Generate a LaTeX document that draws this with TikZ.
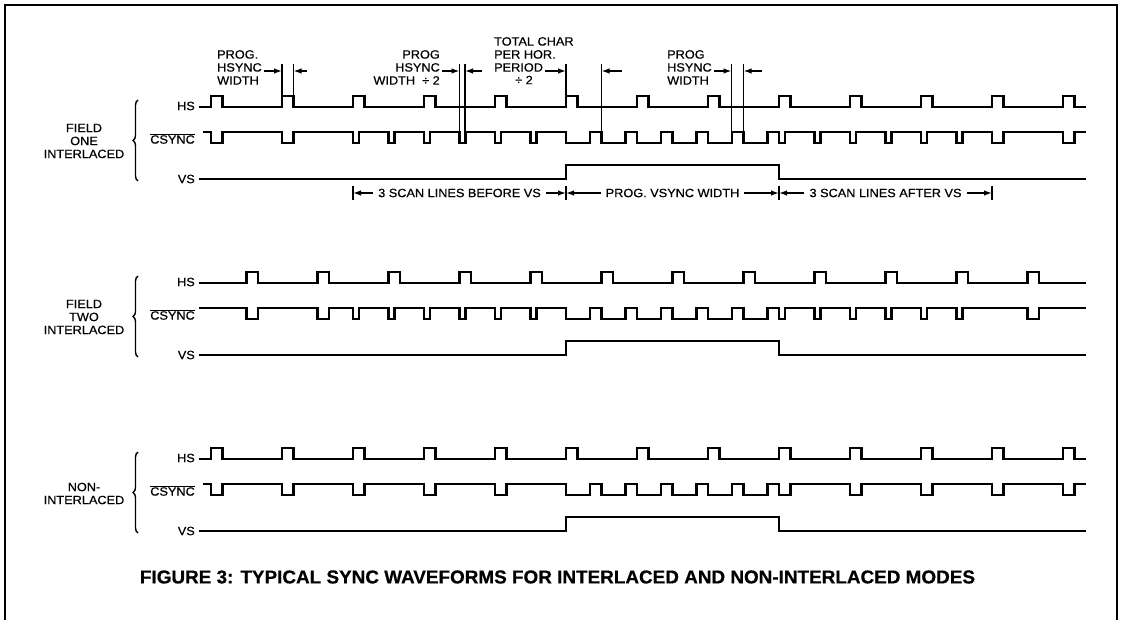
\documentclass[tikz,border=0pt]{standalone}
\usepackage{fontspec}
\setmainfont{Liberation Sans}[FakeStretch=1.06,FakeBold=0.6]
\usepackage{graphicx}
\usetikzlibrary{arrows.meta,decorations.pathreplacing}
\begin{document}
\begin{tikzpicture}[x=1pt,y=-1pt,
  lbl/.style={font=\fontsize{12}{13}\selectfont, inner sep=0pt},
  sig/.style={lbl, anchor=east},
  grp/.style={lbl, align=center},
  dimtxt/.style={lbl, inner xsep=5pt},
  wave/.style={line width=2.1pt},
  guide/.style={line width=1.6pt},
  dimarr/.style={line width=1.4pt, -{Latex[length=8pt,width=5.5pt]}},
  dimbar/.style={line width=1.6pt},
  frameline/.style={line width=2.6pt},
  grpbrace/.style={decorate, decoration={brace, amplitude=5pt}, line width=1.4pt}]
\useasboundingbox (0,0) rectangle (1121,620);
% frame
\coordinate (fbl) at (5,622); \coordinate (ftl) at (5,5);
\coordinate (ftr) at (1117,5); \coordinate (fbr) at (1117,622);
\draw[frameline] (fbl) -- (ftl) -- (ftr) -- (fbr);

% ---------------- group labels and braces ----------------
\node[grp] (g1) at (84,141) {FIELD\\ONE\\INTERLACED};
\node[grp] (g2) at (84,317) {FIELD\\TWO\\INTERLACED};
\node[grp] (g3) at (84,493.5) {NON-\\INTERLACED};
\draw[grpbrace] (138,181) -- (138,100);
\draw[grpbrace] (138,357) -- (138,276);
\draw[grpbrace] (138,533) -- (138,452);

% ---------------- signal labels ----------------
\node[sig] (hs1) at (195,106) {HS};
\node[sig] (cs1) at (195,138.5) {$\overline{\mbox{CSYNC}}$};
\node[sig] (vs1) at (195,179) {VS};
\node[sig] (hs2) at (195,282) {HS};
\node[sig] (cs2) at (195,314.5) {$\overline{\mbox{CSYNC}}$};
\node[sig] (vs2) at (195,355) {VS};
\node[sig] (hs3) at (195,458) {HS};
\node[sig] (cs3) at (195,490.5) {$\overline{\mbox{CSYNC}}$};
\node[sig] (vs3) at (195,531) {VS};

% ---------------- FIELD ONE ----------------
\draw[wave] (199,107) \foreach \k in {0,...,12} { -- ({211+71*\k},107) -- ({211+71*\k},96) -- ({222.5+71*\k},96) -- ({222.5+71*\k},107) } -- (1086,107);
\draw[wave] (203,132)
  \foreach \t in {211,282} { -- (\t,132) -- (\t,143) -- ({\t+11.5},143) -- ({\t+11.5},132) }
  \foreach \k in {0,...,5} { -- ({353+35.5*\k},132) -- ({353+35.5*\k},143) -- ({359+35.5*\k},143) -- ({359+35.5*\k},132) }
  -- (566,132) -- (566,143)
  \foreach \k in {1,...,6} { -- ({554.5+35.5*\k},143) -- ({554.5+35.5*\k},132) -- ({566+35.5*\k},132) -- ({566+35.5*\k},143) }
  -- (785,143) -- (785,132)
  \foreach \k in {1,...,5} { -- ({779+35.5*\k},132) -- ({779+35.5*\k},143) -- ({785+35.5*\k},143) -- ({785+35.5*\k},132) }
  \foreach \t in {992,1063} { -- (\t,132) -- (\t,143) -- ({\t+11.5},143) -- ({\t+11.5},132) }
  -- (1086,132);
\draw[wave] (199,179) -- (566,179) -- (566,165) -- (779,165) -- (779,179) -- (1086,179);

% ---------------- FIELD TWO ----------------
\draw[wave] (199,283) \foreach \k in {0,...,11} { -- ({246.5+71*\k},283) -- ({246.5+71*\k},272) -- ({258+71*\k},272) -- ({258+71*\k},283) } -- (1086,283);
\draw[wave] (199,308)
  \foreach \t in {246.5,317.5} { -- (\t,308) -- (\t,319) -- ({\t+11.5},319) -- ({\t+11.5},308) }
  \foreach \k in {0,...,5} { -- ({353+35.5*\k},308) -- ({353+35.5*\k},319) -- ({359+35.5*\k},319) -- ({359+35.5*\k},308) }
  -- (566,308) -- (566,319)
  \foreach \k in {1,...,6} { -- ({554.5+35.5*\k},319) -- ({554.5+35.5*\k},308) -- ({566+35.5*\k},308) -- ({566+35.5*\k},319) }
  -- (785,319) -- (785,308)
  \foreach \k in {1,...,5} { -- ({779+35.5*\k},308) -- ({779+35.5*\k},319) -- ({785+35.5*\k},319) -- ({785+35.5*\k},308) }
  -- (1027.5,308) -- (1027.5,319) -- (1039,319) -- (1039,308)
  -- (1086,308);
\draw[wave] (199,355) -- (566,355) -- (566,341) -- (779,341) -- (779,355) -- (1086,355);

% ---------------- NON-INTERLACED ----------------
\draw[wave] (199,459) \foreach \k in {0,...,12} { -- ({211+71*\k},459) -- ({211+71*\k},448) -- ({222.5+71*\k},448) -- ({222.5+71*\k},459) } -- (1086,459);
\draw[wave] (203,484)
  \foreach \k in {0,...,4} { -- ({211+71*\k},484) -- ({211+71*\k},495) -- ({222.5+71*\k},495) -- ({222.5+71*\k},484) }
  -- (566,484) -- (566,495)
  \foreach \k in {1,...,6} { -- ({554.5+35.5*\k},495) -- ({554.5+35.5*\k},484) -- ({566+35.5*\k},484) -- ({566+35.5*\k},495) }
  -- (790.5,495) -- (790.5,484)
  \foreach \k in {0,...,3} { -- ({850+71*\k},484) -- ({850+71*\k},495) -- ({861.5+71*\k},495) -- ({861.5+71*\k},484) }
  -- (1086,484);
\draw[wave] (199,531) -- (566,531) -- (566,517) -- (779,517) -- (779,531) -- (1086,531);

% ---------------- width markers (field one) ----------------
% PROG. HSYNC WIDTH
\node[lbl, align=left, anchor=north west] (m1) at (217,50) {PROG.\\HSYNC\\WIDTH};
\draw[guide] (282,64) -- (282,96);
\draw[guide] (293.5,64) -- (293.5,96);
\coordinate (m1l) at (282,71); \coordinate (m1r) at (293.5,71); \coordinate (m1rt) at (307,71);
\draw[dimarr, shorten <=2pt] (m1.east |- m1l) -- (m1l);
\draw[dimarr] (m1rt) -- (m1r);

% PROG HSYNC WIDTH / 2
\node[lbl, align=right, anchor=north east] (m2) at (440,50) {PROG\\HSYNC\\WIDTH \ ÷ 2};
\draw[guide] (459.5,64) -- (459.5,132);
\draw[guide] (465,64) -- (465,132);
\coordinate (m2l) at (459.5,71); \coordinate (m2r) at (465,71); \coordinate (m2rt) at (482,71);
\draw[dimarr, shorten <=2pt] (m2.east |- m2l) -- (m2l);
\draw[dimarr] (m2rt) -- (m2r);

% TOTAL CHAR PER HOR. PERIOD / 2
\node[lbl, align=left, anchor=north west] (m3) at (494,37) {TOTAL CHAR\\PER HOR.\\PERIOD};
\node[lbl] (m3b) at (524,80) {÷ 2};
\draw[guide] (566,64) -- (566,96);
\draw[guide] (601.5,64) -- (601.5,132);
\coordinate (m3l) at (566,71); \coordinate (m3lt) at (545,71);
\coordinate (m3r) at (601.5,71); \coordinate (m3rt) at (622,71);
\draw[dimarr] (m3lt) -- (m3l);
\draw[dimarr] (m3rt) -- (m3r);

% PROG HSYNC WIDTH (serration)
\node[lbl, align=left, anchor=north west] (m4) at (667,50) {PROG\\HSYNC\\WIDTH};
\draw[guide] (731.5,64) -- (731.5,132);
\draw[guide] (743.5,64) -- (743.5,132);
\coordinate (m4l) at (731.5,71); \coordinate (m4r) at (743.5,71); \coordinate (m4rt) at (762,71);
\draw[dimarr, shorten <=2pt] (m4.east |- m4l) -- (m4l);
\draw[dimarr] (m4rt) -- (m4r);

% ---------------- VS dimension row ----------------
\foreach \x/\n in {353/b1,566/b2,779/b3,992/b4} {
  \coordinate (\n) at (\x,193);
  \draw[dimbar] (\x,186) -- (\x,200);
}
\node[dimtxt] (d1) at (459.5,193) {3 SCAN LINES BEFORE VS};
\node[dimtxt] (d2) at (672.5,193) {PROG. VSYNC WIDTH};
\node[dimtxt] (d3) at (885.5,193) {3 SCAN LINES AFTER VS};
\draw[dimarr] (d1.west) -- (b1);
\draw[dimarr] (d1.east) -- (b2);
\draw[dimarr] (d2.west) -- (b2);
\draw[dimarr] (d2.east) -- (b3);
\draw[dimarr] (d3.west) -- (b3);
\draw[dimarr] (d3.east) -- (b4);

% ---------------- caption ----------------
\node[inner sep=0pt] (cap) at (557.5,577) {\resizebox{835pt}{13pt}{\bfseries FIGURE 3: TYPICAL SYNC WAVEFORMS FOR INTERLACED AND NON-INTERLACED MODES}};
\end{tikzpicture}
\end{document}
